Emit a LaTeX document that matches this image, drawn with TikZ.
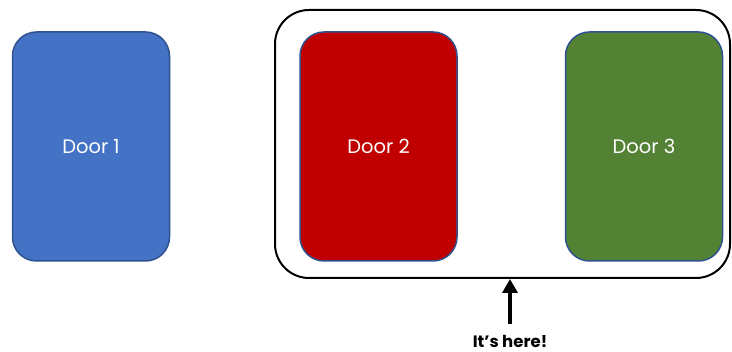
\documentclass[tikz,border=0pt]{standalone}
\usepackage{fontspec}
\setmainfont{Poppins}
\usetikzlibrary{arrows.meta}
\definecolor{doorblue}{HTML}{4472C4}
\definecolor{doorred}{HTML}{C00000}
\definecolor{doorgreen}{HTML}{548235}
\definecolor{doorline}{HTML}{2F528F}
\tikzset{
  door/.style={draw=doorline, line width=1.5pt, rounded corners=24pt,
    minimum width=157pt, minimum height=229pt, inner sep=0pt,
    text=white, font=\fontsize{19.5}{22}\selectfont},
  groupbox/.style={draw=black, line width=2pt, rounded corners=34pt},
  pointer/.style={line width=4pt, -{Triangle[width=15pt,length=14pt]}}
}
\begin{document}
\begin{tikzpicture}[x=1pt,y=-1pt]
\useasboundingbox (0,0) rectangle (732,352);
\draw[groupbox] (275,10) rectangle (730,278);
\node[door, fill=doorblue] (d1) at (91,146.5) {Door 1};
\node[door, fill=doorred] (d2) at (378.5,146.5) {Door 2};
\node[door, fill=doorgreen] (d3) at (644,146.5) {Door 3};
\node[font=\bfseries\fontsize{16.5}{18}\selectfont, inner sep=0pt] (lbl) at (510,341) {It’s here!};
\coordinate (tip) at (510,279);
\draw[pointer] (510,324) -- (tip);
\end{tikzpicture}
\end{document}
